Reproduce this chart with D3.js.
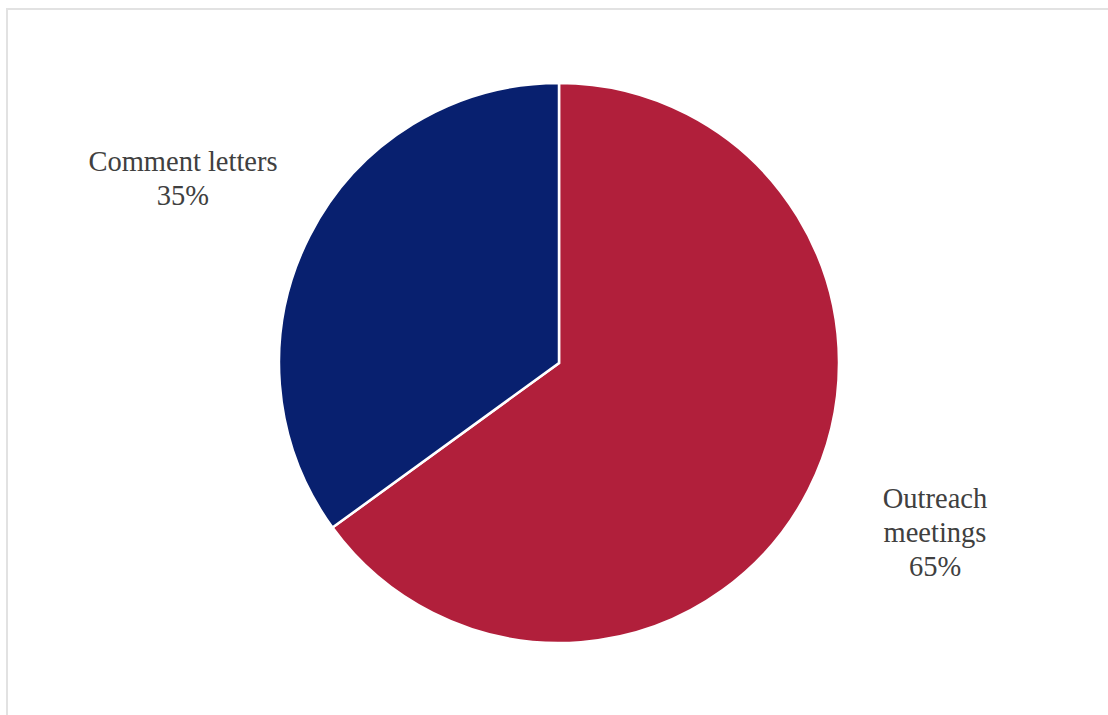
<!DOCTYPE html>
<html>
<head>
<meta charset="utf-8">
<script src="https://cdn.jsdelivr.net/npm/d3@7"></script>
<style>
  html, body { margin: 0; padding: 0; background: #fff; }
</style>
</head>
<body>
<div id="chart"></div>
<script>
//Data;
const categories = ["Outreach meetings", "Comment letters"];
const shares = [65, 35];
const labelLines = [["Outreach", "meetings", "65%"], ["Comment letters", "35%"]];

//Sizes;
const w = 1108;
const h = 715;
const cx = 559;
const cy = 363;
const radius = 280;
const lineH = 34;
const colors = ["#b11f3b", "#08206f"];

const svg = d3.select("#chart")
  .append("svg")
    .attr("width", w)
    .attr("height", h);

//Chart border (runs off the right and bottom edge);
svg.append("rect")
  .attr("x", 7)
  .attr("y", 9)
  .attr("width", w + 20)
  .attr("height", h + 20)
  .attr("fill", "#fff")
  .attr("stroke", "#e2e2e2")
  .attr("stroke-width", 2);

const pie = d3.pie().sort(null).value(function(d){ return d; });
const arcs = pie(shares);

const arc = d3.arc().innerRadius(0).outerRadius(radius);

const g = svg.append("g")
  .attr("transform", "translate(" + cx + "," + cy + ")");

//Slices;
g.selectAll("path")
  .data(arcs)
  .enter()
  .append("path")
    .attr("d", arc)
    .attr("fill", function(d, i){ return colors[i]; })
    .attr("stroke", "#fff")
    .attr("stroke-width", 2.5)
    .attr("stroke-linejoin", "miter");

//Labels placed outside the slice, around its mid angle;
const labels = g.selectAll("text")
  .data(arcs)
  .enter()
  .append("text")
    .attr("font-family", "'Liberation Serif', 'Times New Roman', serif")
    .attr("font-size", "28.5px")
    .attr("fill", "#404040")
    .attr("text-anchor", "middle")
    .attr("transform", function(d){
      const a = (d.startAngle + d.endAngle) / 2;
      const x = 422 * Math.sin(a);
      const y = -390 * Math.cos(a) - 7;
      return "translate(" + x + "," + y + ")";
    });

labels.each(function(d, i){
  const lines = labelLines[i];
  const t = d3.select(this);
  const top = -((lines.length - 1) * lineH) / 2 + 9;
  lines.forEach(function(s, k){
    t.append("tspan")
      .attr("x", 0)
      .attr("y", top + k * lineH)
      .text(s);
  });
});
</script>
</body>
</html>
